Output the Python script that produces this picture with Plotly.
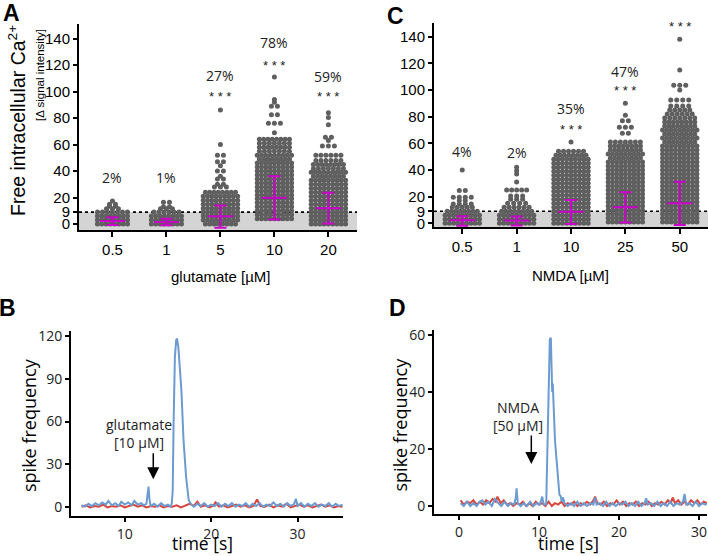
import plotly.graph_objects as go

W, H = 708, 556

# ---------------- Panel A: glutamate swarm (row value, dots per row) ----------------
glu_labels = ["0.5", "1", "5", "10", "20"]
glu05_y = [0, 3, 6, 9, 11.5, 13.5, 15, 17.4]
glu05_n = [8, 8, 8, 7, 3, 2, 2, 1]
glu1_y = [0, 3, 6, 9, 11.5, 13, 16.5]
glu1_n = [8, 8, 8, 6, 3, 2, 2]
glu5_y = [0, 3, 6, 9, 12, 15, 18, 21, 24, 28, 30, 34, 36, 40, 44, 47, 52, 60, 86]
glu5_n = [8, 9, 9, 9, 9, 9, 9, 9, 8, 3, 2, 2, 1, 2, 1, 2, 2, 1, 1]
glu10_y = [4, 7, 10, 13, 16, 19, 22, 25, 28, 31, 34, 37, 40, 43, 46, 49, 52, 55, 58, 61, 64,
           69, 76, 82.5, 89, 92, 94, 111]
glu10_n = [9, 9, 9, 9, 9, 9, 9, 9, 9, 9, 9, 9, 9, 9, 9, 8, 9, 7, 8, 7, 8,
           1, 3, 2, 2, 1, 1, 1]
glu20_y = [0, 3, 6, 9, 12, 15, 18, 21, 24, 27, 30, 33, 36, 39, 42, 45, 48, 52,
           59, 63, 65.5, 75, 80.5, 84]
glu20_n = [9, 9, 9, 9, 9, 9, 9, 9, 9, 9, 9, 9, 8, 9, 7, 8, 6, 6,
           3, 1, 2, 1, 1, 1]
glu_center = [2.3, 1.5, 5.8, 19.8, 11.9]
glu_upper = [5.2, 4.0, 14.0, 36.0, 23.7]
glu_lower = [-0.8, -1.0, -2.8, 3.5, 0.5]
glu_pct = ["2%", "1%", "27%", "78%", "59%"]
glu_pct_y = [35, 35, 112, 137, 111]
glu_star_y = [None, None, 96, 120, 96]

# ---------------- Panel C: NMDA swarm ----------------
nmda_labels = ["0.5", "1", "10", "25", "50"]
nmda05_y = [0, 3, 6, 9, 12, 14.5, 17, 19.5, 24.5, 40]
nmda05_n = [9, 9, 9, 8, 5, 4, 2, 4, 2, 1]
nmda1_y = [0, 3, 6, 9, 12, 15, 18, 20.5, 25, 31, 37, 39.5, 42]
nmda1_n = [9, 9, 9, 8, 6, 4, 3, 3, 5, 1, 1, 1, 1]
nmda10_y = [0, 3, 6, 9, 12, 15, 18, 21, 24, 27, 30, 33, 36, 39, 42, 45, 48, 51, 54, 61]
nmda10_n = [9, 9, 9, 9, 9, 9, 9, 9, 9, 9, 9, 9, 9, 9, 9, 9, 9, 8, 6, 1]
nmda25_y = [1, 4, 7, 10, 13, 16, 19, 22, 25, 28, 31, 34, 37, 40, 43, 46, 49, 52, 55, 58, 61,
            67.5, 72, 77, 81, 90]
nmda25_n = [9, 9, 9, 9, 9, 9, 9, 9, 9, 9, 9, 9, 9, 9, 9, 9, 8, 9, 8, 8, 7,
            2, 3, 2, 1, 1]
nmda50_y = [1, 4, 7, 10, 13, 16, 19, 22, 25, 28, 31, 34, 37, 40, 43, 46, 49, 52, 55, 58,
            61, 64, 67, 70, 73, 76, 79, 82, 85, 88, 92.5, 100, 103.5, 115, 138]
nmda50_n = [9, 9, 9, 9, 9, 9, 9, 9, 9, 9, 9, 9, 9, 9, 9, 9, 9, 9, 9, 9,
            8, 9, 8, 9, 8, 8, 7, 6, 5, 4, 4, 1, 3, 1, 1]
nmda_center = [2.2, 2.0, 8.7, 12.0, 15.0]
nmda_upper = [5.2, 5.0, 17.5, 23.2, 31.1]
nmda_lower = [-1.9, -1.6, -0.6, 0.5, -1.3]
nmda_pct = ["4%", "2%", "35%", "47%", "50%"]
nmda_pct_y = [53.7, 53, 86.3, 113.7, 163.8]
nmda_star_y = [None, None, 70, 99.5, 148]

threshold = 9

# ---------------- Panel B: spike frequency, glutamate ----------------
B_blue_t = [5.0, 5.4, 5.8, 6.2, 6.6, 7.0, 7.4, 7.8, 8.1, 8.5, 8.9, 9.3, 9.6, 10.0, 10.4, 10.8,
            11.1, 11.5, 11.9, 12.2, 12.5, 12.65, 12.75, 12.85, 13.0, 13.4, 13.8, 14.2, 14.6,
            15.0, 15.3, 15.45, 15.55, 15.65, 15.8, 15.95, 16.05, 16.2, 16.4, 16.55, 16.8, 17.1,
            17.4, 17.7, 18.0, 18.4, 18.8, 19.2, 19.6, 20.0, 20.4, 20.8, 21.2, 21.6, 22.0, 22.4,
            22.8, 23.2, 23.6, 24.0, 24.4, 24.8, 25.2, 25.6, 26.0, 26.4, 26.8, 27.2, 27.6, 28.0,
            28.4, 28.8, 29.2, 29.6, 29.8, 30.0, 30.4, 30.8, 31.2, 31.6, 32.0, 32.4, 32.8, 33.2,
            33.6, 34.0, 34.4, 34.8, 35.2]
B_blue_v = [1.5, 0.5, 2.5, 1.0, 3.0, 1.5, 3.5, 2.0, 4.5, 1.5, 3.0, 1.0, 4.0, 2.0, 3.5, 1.5,
            4.5, 2.0, 3.0, 1.5, 2.5, 8.0, 14.5, 6.0, 1.0, 2.5, 0.5, 3.0, 1.0,
            2.0, 0.5, 3.0, 12.0, 59.0, 105.0, 117.0, 118.0, 112.0, 95.0, 82.0, 47.0, 21.0,
            5.0, 2.0, 0.5, 2.5, 1.0, 3.0, 0.5, 2.0, 1.0, 3.0, 0.5, 2.5, 1.0, 3.0,
            0.5, 2.0, 1.0, 3.0, 0.5, 2.5, 1.0, 3.0, 0.5, 2.0, 1.0, 3.5, 1.0, 2.5,
            0.5, 3.0, 1.0, 2.5, 6.0, 1.0, 3.0, 0.5, 2.5, 1.0, 3.0, 0.5, 2.0, 1.0,
            3.0, 0.5, 2.5, 1.0, 2.0]
B_red_t = [5.0, 5.5, 6.0, 6.5, 7.0, 7.5, 8.0, 8.5, 9.0, 9.5, 10.0, 10.5, 11.0, 11.5, 12.0,
           12.5, 13.0, 13.5, 14.0, 14.5, 15.0, 15.5, 16.0, 16.5, 17.0, 17.5, 18.0, 18.4, 18.8,
           19.3, 19.8, 20.2, 20.5, 20.9, 21.4, 21.9, 22.4, 22.9, 23.4, 23.9, 24.4, 24.9, 25.3,
           25.7, 26.2, 26.7, 27.2, 27.7, 28.2, 28.7, 29.2, 29.7, 30.2, 30.7, 31.2, 31.7, 32.2,
           32.7, 33.2, 33.7, 34.2, 34.7, 35.2]
B_red_v = [0.5, 1.5, 0.0, 1.0, 0.5, 2.0, 0.0, 1.0, 0.5, 1.5, 0.0, 1.0, 2.0, 0.5, 1.5,
           0.0, 1.0, 0.5, 1.5, 0.0, 1.0, 0.5, 1.5, 0.0, 1.0, 2.5, 1.0, 4.0, 0.5,
           1.5, 0.0, 1.0, 3.5, 0.5, 1.5, 0.0, 1.0, 2.0, 0.5, 1.5, 0.0, 1.0, 5.5,
           1.0, 0.5, 2.0, 0.0, 1.5, 0.5, 2.5, 0.0, 1.0, 2.0, 0.5, 1.5, 0.0, 1.0,
           2.0, 0.5, 1.5, 0.0, 1.0, 0.5]

# ---------------- Panel D: spike frequency, NMDA ----------------
D_blue_t = [0.2, 0.6, 1.0, 1.4, 1.8, 2.2, 2.6, 2.9, 3.3, 3.7, 4.1, 4.5, 4.9, 5.3, 5.7, 6.1,
            6.5, 6.9, 7.1, 7.2, 7.35, 7.7, 8.1, 8.5, 8.9, 9.3, 9.7, 10.1, 10.4, 10.6, 10.9,
            11.05, 11.2, 11.35, 11.48, 11.58, 11.65, 11.72, 11.85, 12.0, 12.2, 12.4, 12.55,
            12.7, 12.85, 13.0, 13.2, 13.6, 14.0, 14.4, 14.8, 15.2, 15.6, 16.0, 16.4, 16.8,
            17.0, 17.2, 17.6, 18.0, 18.4, 18.8, 19.2, 19.6, 20.0, 20.4, 20.8, 21.2, 21.6,
            22.0, 22.4, 22.8, 23.2, 23.4, 23.6, 24.0, 24.4, 24.8, 25.2, 25.6, 26.0, 26.4,
            26.8, 27.2, 27.6, 28.0, 28.2, 28.4, 28.8, 29.2, 29.6, 30.0, 30.4, 30.8, 31.0]
D_blue_v = [1.0, 0.0, 1.5, 0.0, 1.0, 0.0, 1.5, 2.0, 0.5, 1.5, 0.0, 2.5, 1.0, 0.0, 1.5, 0.0,
            1.0, 0.5, 3.0, 6.2, 1.0, 0.0, 1.0, 0.0, 1.5, 0.0, 1.0, 0.5, 3.3, 0.5, 0.5,
            20.0, 50.0, 58.5, 59.0, 45.0, 40.0, 43.0, 32.0, 23.0, 16.0, 7.0, 4.0,
            3.5, 1.5, 3.0, 1.0, 0.0, 1.0, 0.0, 1.5, 0.0, 1.0, 0.0, 1.0, 0.5,
            3.0, 0.5, 1.0, 0.0, 1.5, 0.0, 1.0, 0.0, 1.0, 0.5, 1.5, 0.0, 1.0,
            0.0, 1.5, 0.0, 1.0, 2.7, 0.5, 1.0, 0.0, 1.5, 0.0, 1.0, 0.0, 1.5,
            0.0, 1.0, 0.5, 1.5, 4.2, 0.5, 1.0, 0.0, 1.5, 0.0, 1.0, 0.5, 1.0]
D_red_t = [0.2, 0.6, 1.0, 1.4, 1.8, 2.2, 2.6, 3.0, 3.4, 3.8, 4.2, 4.6, 4.8, 5.2, 5.6, 6.0,
           6.4, 6.8, 7.2, 7.6, 8.0, 8.4, 8.8, 9.2, 9.6, 10.0, 10.4, 10.8, 11.2, 11.6, 12.0,
           12.4, 12.8, 13.2, 13.6, 14.0, 14.4, 14.8, 15.2, 15.6, 16.0, 16.4, 16.8, 17.0,
           17.3, 17.7, 18.1, 18.5, 18.9, 19.3, 19.7, 20.1, 20.5, 20.9, 21.3, 21.7, 22.1,
           22.5, 22.9, 23.3, 23.7, 24.1, 24.5, 24.9, 25.3, 25.7, 26.1, 26.5, 26.7, 27.0,
           27.4, 27.8, 28.2, 28.6, 29.0, 29.4, 29.8, 30.2, 30.6, 31.0]
D_red_v = [2.0, 0.5, 1.5, 1.0, 2.0, 0.5, 1.5, 0.5, 2.0, 1.0, 2.5, 1.5, 3.3, 1.0, 2.0, 0.5,
           1.0, 0.0, 1.0, 0.5, 1.5, 0.0, 1.0, 0.0, 1.5, 0.5, 1.0, 0.0, 1.5, 0.0, 1.0,
           0.5, 1.5, 0.0, 1.0, 0.5, 1.5, 0.0, 1.0, 0.5, 1.5, 0.5, 2.0, 3.3,
           1.0, 0.5, 1.5, 0.0, 1.0, 0.5, 2.0, 0.5, 1.5, 0.0, 1.0, 0.5, 1.5,
           0.0, 1.0, 0.5, 1.5, 0.0, 1.0, 0.5, 1.5, 0.5, 2.0, 1.0, 3.0, 1.0,
           2.0, 0.5, 1.5, 0.5, 2.0, 1.0, 2.0, 0.5, 1.5, 1.0]

# ---------------- styling ----------------
DOT = "#5f5f5f"
MAG = "#c800c8"
BAND = "#d4d4d4"
BLUE = "#6b9bd1"
RED = "#d9443b"
ARIAL = "Liberation Sans, Arial, sans-serif"
OPEN = "Open Sans, sans-serif"


def px_x(p):
    return p / W


def px_y(p):
    return 1 - p / H


def swarm(rows, px_per_cat):
    xs, ys = [], []
    for ci, (vals, counts) in enumerate(rows):
        for v, n in zip(vals, counts):
            sp_px = 4.3 if n >= 8 else (5.0 if n >= 5 else 6.0)
            sp = sp_px / px_per_cat
            for k in range(n):
                xs.append(ci + (k - (n - 1) / 2) * sp)
                ys.append(v)
    return xs, ys


fig = go.Figure()

# swarms
gx, gy = swarm([(glu05_y, glu05_n), (glu1_y, glu1_n), (glu5_y, glu5_n),
                (glu10_y, glu10_n), (glu20_y, glu20_n)], 54.0)
nx, ny = swarm([(nmda05_y, nmda05_n), (nmda1_y, nmda1_n), (nmda10_y, nmda10_n),
                (nmda25_y, nmda25_n), (nmda50_y, nmda50_n)], 54.4)
fig.add_trace(go.Scatter(x=gx, y=gy, mode="markers", xaxis="x", yaxis="y",
                         marker=dict(size=5, color=DOT, line=dict(width=0)),
                         hoverinfo="skip", showlegend=False))
fig.add_trace(go.Scatter(x=nx, y=ny, mode="markers", xaxis="x2", yaxis="y2",
                         marker=dict(size=5, color=DOT, line=dict(width=0)),
                         hoverinfo="skip", showlegend=False))

# error bars (magenta)
for xa, ya, c, up, lo in [("x", "y", glu_center, glu_upper, glu_lower),
                          ("x2", "y2", nmda_center, nmda_upper, nmda_lower)]:
    fig.add_trace(go.Scatter(
        x=list(range(5)), y=c, mode="markers", xaxis=xa, yaxis=ya,
        marker=dict(symbol="line-ew", size=18, color=MAG, line=dict(width=2, color=MAG)),
        error_y=dict(type="data", symmetric=False,
                     array=[u - m for u, m in zip(up, c)],
                     arrayminus=[m - l for m, l in zip(c, lo)],
                     color=MAG, thickness=2, width=6),
        hoverinfo="skip", showlegend=False))

# spike traces
fig.add_trace(go.Scatter(x=B_red_t, y=B_red_v, mode="lines", xaxis="x3", yaxis="y3",
                         line=dict(color=RED, width=2), hoverinfo="skip", showlegend=False))
fig.add_trace(go.Scatter(x=B_blue_t, y=B_blue_v, mode="lines", xaxis="x3", yaxis="y3",
                         line=dict(color=BLUE, width=2), hoverinfo="skip", showlegend=False))
fig.add_trace(go.Scatter(x=D_red_t, y=D_red_v, mode="lines", xaxis="x4", yaxis="y4",
                         line=dict(color=RED, width=2), hoverinfo="skip", showlegend=False))
fig.add_trace(go.Scatter(x=D_blue_t, y=D_blue_v, mode="lines", xaxis="x4", yaxis="y4",
                         line=dict(color=BLUE, width=2), hoverinfo="skip", showlegend=False))

common_axis = dict(showline=True, linecolor="black", linewidth=2, ticks="outside",
                   tickcolor="black", tickwidth=1.5, showgrid=False, zeroline=False,
                   automargin=False, fixedrange=True)

yt = [0, 9, 20, 40, 60, 80, 100, 120, 140]
fig.update_layout(
    width=W, height=H, margin=dict(l=0, r=0, t=0, b=0), template="none",
    plot_bgcolor="white", paper_bgcolor="white",
    xaxis=dict(domain=[px_x(79), px_x(357)], range=[-0.62, 4.53], anchor="y",
               tickvals=list(range(5)), ticktext=glu_labels, ticklen=5,
               tickfont=dict(family=ARIAL, size=15, color="black"), **common_axis),
    yaxis=dict(domain=[px_y(230), px_y(24)], range=[-4.5, 151], anchor="x",
               tickvals=yt, ticklen=4,
               tickfont=dict(family=ARIAL, size=15, color="black"), **common_axis),
    xaxis2=dict(domain=[px_x(434), px_x(708)], range=[-0.52, 4.52], anchor="y2",
                tickvals=list(range(5)), ticktext=nmda_labels, ticklen=5,
                tickfont=dict(family=ARIAL, size=15, color="black"), **common_axis),
    yaxis2=dict(domain=[px_y(227), px_y(22.7)], range=[-2.8, 150.5], anchor="x2",
                tickvals=yt, ticklen=4,
                tickfont=dict(family=ARIAL, size=15, color="black"), **common_axis),
    xaxis3=dict(domain=[px_x(71), px_x(343)], range=[3.78, 35.25], anchor="y3",
                tickvals=[10, 20, 30], ticklen=4,
                tickfont=dict(family=OPEN, size=14, color="#222"), **common_axis),
    yaxis3=dict(domain=[px_y(516), px_y(330.7)], range=[-6, 123.5], anchor="x3",
                tickvals=[0, 30, 60, 90, 120], ticklen=4,
                tickfont=dict(family=OPEN, size=14, color="#222"), **common_axis),
    xaxis4=dict(domain=[px_x(434), px_x(707)], range=[-3.125, 31.0], anchor="y4",
                tickvals=[0, 10, 20, 30], ticklen=4,
                tickfont=dict(family=OPEN, size=14, color="#222"), **common_axis),
    yaxis4=dict(domain=[px_y(514), px_y(330)], range=[-2.8, 61.75], anchor="x4",
                tickvals=[0, 20, 40, 60], ticklen=4,
                tickfont=dict(family=OPEN, size=14, color="#222"), **common_axis),
)

shapes = []
for xa, ya, ymin in [("x", "y", -4.5), ("x2", "y2", -2.8)]:
    shapes.append(dict(type="rect", xref=xa + " domain", yref=ya, x0=0, x1=1,
                       y0=ymin, y1=threshold, fillcolor=BAND, line=dict(width=0), layer="below"))
    shapes.append(dict(type="line", xref=xa + " domain", yref=ya, x0=0, x1=1,
                       y0=threshold, y1=threshold, line=dict(color="black", width=1.6, dash="dot"),
                       layer="below"))
fig.update_layout(shapes=shapes)

ann = []
# percentages and stars
for xa, ya, pct, pct_y, star_y in [("x", "y", glu_pct, glu_pct_y, glu_star_y),
                                   ("x2", "y2", nmda_pct, nmda_pct_y, nmda_star_y)]:
    for i in range(5):
        ann.append(dict(x=i, y=pct_y[i], xref=xa, yref=ya, text=pct[i], showarrow=False,
                        xanchor="center", yanchor="middle",
                        font=dict(family=OPEN, size=14, color="#222")))
        if star_y[i] is not None:
            ann.append(dict(x=i, y=star_y[i], xref=xa, yref=ya, text="* * *", showarrow=False,
                            xanchor="center", yanchor="middle",
                            font=dict(family=ARIAL, size=13, color="#222")))


def paper_text(text, cx, cy, font, angle=0):
    ann.append(dict(x=px_x(cx), y=px_y(cy), xref="paper", yref="paper", text=text,
                    textangle=angle, showarrow=False, xanchor="center", yanchor="middle",
                    font=font))


# axis titles (panel A/C)
paper_text("Free intracellular Ca<sup>2+</sup>", 17, 121,
           dict(family=ARIAL, size=19.5, color="black"), -90)
paper_text("[Δ signal intensity]", 40, 75, dict(family=ARIAL, size=11.5, color="black"), -90)
paper_text("glutamate [µM]", 221, 276.7, dict(family=ARIAL, size=15, color="black"))
paper_text("NMDA [µM]", 570.7, 275, dict(family=ARIAL, size=15, color="black"))

# axis titles (panel B/D)
for cx in [29, 399.5]:
    paper_text("spike frequency", cx, 425, dict(family=OPEN, size=18, color="black"), -90)
for cx in [202.5, 568]:
    paper_text("time [s]", cx, 543, dict(family=OPEN, size=17.5, color="black"))

# panel letters
for letter, cx, cy in [("A", 11.5, 13.5), ("C", 395.5, 15.5), ("B", 7.5, 308), ("D", 397.5, 308)]:
    paper_text("<b>%s</b>" % letter, cx, cy, dict(family=ARIAL, size=23, color="black"))

# stimulus annotations
ann.append(dict(x=11.66, y=52, xref="x3", yref="y3", text="glutamate<br>[10 µM]",
                showarrow=False, xanchor="center", yanchor="middle",
                font=dict(family=OPEN, size=14, color="#222")))
ann.append(dict(x=13.3, y=19.6, xref="x3", yref="y3", ax=13.3, ay=38.9,
                axref="x3", ayref="y3", text="", showarrow=True, arrowhead=2,
                arrowsize=1.6, arrowwidth=1.5, arrowcolor="black"))
ann.append(dict(x=7.43, y=31.3, xref="x4", yref="y4", text="NMDA<br>[50 µM]",
                showarrow=False, xanchor="center", yanchor="middle",
                font=dict(family=OPEN, size=14, color="#222")))
ann.append(dict(x=9.04, y=14.7, xref="x4", yref="y4", ax=9.04, ay=25.3,
                axref="x4", ayref="y4", text="", showarrow=True, arrowhead=2,
                arrowsize=1.6, arrowwidth=1.5, arrowcolor="black"))

fig.update_layout(annotations=ann)
fig.write_html("out.html", config={"displayModeBar": False},
               post_script="document.body.style.margin='0';")
